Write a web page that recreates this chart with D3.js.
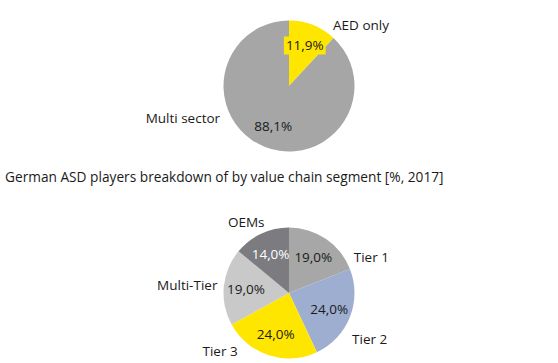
<!DOCTYPE html>
<html>
<head>
<meta charset="utf-8">
<script src="https://cdn.jsdelivr.net/npm/d3@7"></script>
<style>
  body { margin: 0; background: #fff; }
  svg { display: block; font-family: "Open Sans", sans-serif; }
</style>
</head>
<body>
<div id="chart"></div>
<script>
// Data: top pie (sector split) and bottom pie (value chain segment)
const sectorNames = ["AED only", "Multi sector"];
const sectorValues = [11.9, 88.1];
const sectorColors = ["#ffe600", "#a6a6a6"];

const segmentNames = ["Tier 1", "Tier 2", "Tier 3", "Multi-Tier", "OEMs"];
const segmentValues = [19.0, 24.0, 24.0, 19.0, 14.0];
const segmentColors = ["#a7a7a7", "#9eaed0", "#ffe600", "#c9c9c9", "#7b7b80"];

const bottomTitle = "German ASD players breakdown of by value chain segment [%, 2017]";

// label placement (angle in degrees from 12 o'clock, distance from centre, anchor)
const sectorLabelAt = [[36, 75, "start"], [245, 76, "end"]];
const segmentLabelAt = [[61, 74, "start"], [126, 78, "start"], [230, 90, "middle"], [276, 72, "end"], [329, 83, "middle"]];

const fmt = v => d3.format(".1f")(v).replace(".", ",") + "%";

const svg = d3.select("#chart").append("svg")
    .attr("width", 558)
    .attr("height", 363);

function drawPie(cx, cy, r, names, values, colors, labelAt, pctColors, boxFirst) {
    const pie = d3.pie().sort(null).value(d => d)(values);
    const arc = d3.arc().innerRadius(0).outerRadius(r);
    const mid = d3.arc().innerRadius(r * 0.66).outerRadius(r * 0.66);
    const g = svg.append("g").attr("transform", "translate(" + cx + "," + cy + ")");

    g.selectAll("path")
      .data(pie)
      .enter()
      .append("path")
        .attr("d", arc)
        .attr("fill", (d, i) => colors[i]);

    // percent labels
    pie.forEach(function(d, i) {
        const c = mid.centroid(d);
        const t = g.append("text")
            .attr("x", c[0])
            .attr("y", c[1])
            .attr("dy", "0.35em")
            .attr("text-anchor", "middle")
            .style("font-size", "13.5px")
            .attr("fill", pctColors[i])
            .text(fmt(values[i]));
        if (boxFirst && i == 0) {
            const bb = t.node().getBBox();
            g.insert("rect", "text")
                .attr("x", bb.x - 2).attr("y", bb.y)
                .attr("width", bb.width + 4).attr("height", bb.height)
                .attr("fill", colors[i]);
        }
    });

    // category labels
    names.forEach(function(n, i) {
        const a = labelAt[i][0] * Math.PI / 180;
        const p = d3.arc().innerRadius(labelAt[i][1]).outerRadius(labelAt[i][1])
            .centroid({startAngle: a, endAngle: a});
        g.append("text")
            .attr("x", p[0])
            .attr("y", p[1])
            .attr("dy", "0.35em")
            .attr("text-anchor", labelAt[i][2])
            .style("font-size", "13.5px")
            .attr("fill", "#1a1a1a")
            .text(n);
    });
}

drawPie(289, 86, 65.5, sectorNames, sectorValues, sectorColors, sectorLabelAt,
        ["#1a1a1a", "#1a1a1a"], true);

svg.append("text")
    .attr("x", 5)
    .attr("y", 177)
    .attr("dy", "0.35em")
    .style("font-size", "13.7px")
    .attr("fill", "#1a1a1a")
    .text(bottomTitle);

drawPie(289, 293, 65.5, segmentNames, segmentValues, segmentColors, segmentLabelAt,
        ["#1a1a1a", "#1a1a1a", "#1a1a1a", "#1a1a1a", "#ffffff"], false);
</script>
</body>
</html>
